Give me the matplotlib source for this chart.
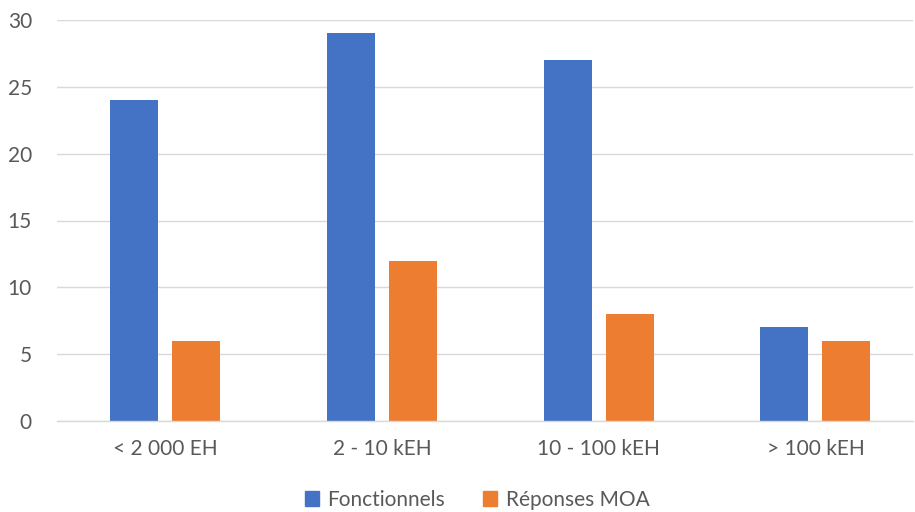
import matplotlib
matplotlib.use("Agg")
import matplotlib.pyplot as plt
import numpy as np
from matplotlib.patches import Patch

categories = ["< 2 000 EH", "2 - 10 kEH", "10 - 100 kEH", "> 100 kEH"]
fonctionnels = [24, 29, 27, 7]
reponses_moa = [6, 12, 8, 6]
series_names = ["Fonctionnels", "Réponses MOA"]
colors = ["#4472C4", "#ED7D31"]
yticks = [0, 5, 10, 15, 20, 25, 30]

plt.rcParams['font.family'] = ['Lato', 'DejaVu Sans']
W, H = 915, 512
fig = plt.figure(figsize=(W/100, H/100), dpi=100)
left, right, top, bottom = 57, 913, 20, 421
ax = fig.add_axes([left/W, 1-bottom/H, (right-left)/W, (bottom-top)/H])

x = np.arange(len(categories))
bw = 0.2215
off = 0.143
ax.bar(x-off, fonctionnels, bw, color=colors[0], zorder=3)
ax.bar(x+off, reponses_moa, bw, color=colors[1], zorder=3)

span = (right-left)
unit = 216.7
ax.set_xlim(-0.5, -0.5 + span/unit)
ax.set_ylim(0, 30)
ax.set_yticks(yticks)
ax.set_xticks(x)
ax.set_xticklabels(categories)
ax.yaxis.grid(True, color="#D9D9D9", linewidth=1, zorder=0)
for s in ["top", "right", "left"]:
    ax.spines[s].set_visible(False)
ax.spines["bottom"].set_color("#D9D9D9")
ax.spines["bottom"].set_linewidth(1)
ax.spines["bottom"].set_zorder(4)
ax.tick_params(axis="both", length=0, labelsize=15, labelcolor="#595959")
ax.tick_params(axis="x", pad=13)
ax.tick_params(axis="y", pad=18)

handles = [Patch(color=c, label=n) for c, n in zip(colors, series_names)]
fig.legend(handles=handles, loc="center", bbox_to_anchor=(477/W, 1-500/H), ncol=2,
           frameon=False, fontsize=15, labelcolor="#595959", handlelength=0.7,
           handleheight=0.7, handletextpad=0.4, columnspacing=1.8)

fig.savefig("out.png", dpi=100)
